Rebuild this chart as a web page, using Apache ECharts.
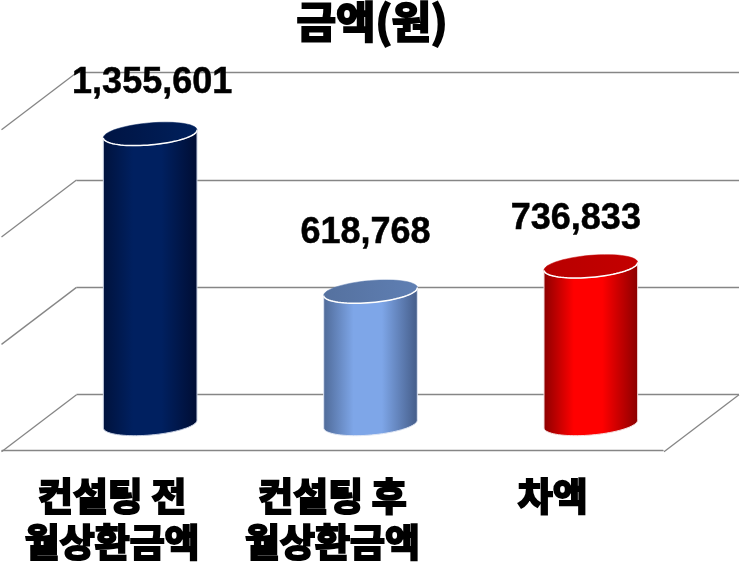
<!DOCTYPE html>
<html><head><meta charset="utf-8">
<style>html,body{margin:0;padding:0;background:#fff}#c{width:740px;height:565px}</style>
<script src="https://cdn.jsdelivr.net/npm/echarts@6/dist/echarts.min.js"></script>
</head><body><div id="c"></div>
<script>
const categories = ['컨설팅 전\n월상환금액', '컨설팅 후\n월상환금액', '차액'];
const values = [1355601, 618768, 736833];
const valueLabels = ['1,355,601', '618,768', '736,833'];
const gridTicks = [0, 500000, 1000000, 1500000];

const KR = '"Noto Sans CJK KR","Noto Sans",sans-serif';
const palettes = [
  {edgeL:'#00123c', mid:'#002060', edgeR:'#000d33', top:['#001443','#00205c'], line:'#c4cde0'},
  {edgeL:'#4f6a98', mid:'#7ea6e8', edgeR:'#445c88', top:['#55719f','#5f7fb3'], line:'#dfe6f4'},
  {edgeL:'#8c0000', mid:'#ff0000', edgeR:'#8a0000', top:['#b80000','#c40000'], line:'#f4dede'}
];
const labelShift = [[2,-51],[-5,-59],[-15,-47]];
const DEPTH = [-75, 57];
const RX = 47, RY = 11, TILT = -5 * Math.PI / 180;

function ell(cx, cy, t){
  const c = Math.cos(t), s = Math.sin(t);
  return [cx + RX*c*Math.cos(TILT) - RY*s*Math.sin(TILT),
          cy + RX*c*Math.sin(TILT) + RY*s*Math.cos(TILT)];
}
function arcPts(cx, cy, a, b, n){
  const out = [];
  for (let i = 0; i <= n; i++) out.push(ell(cx, cy, a + (b-a)*i/n));
  return out;
}
function grad(stops){
  return new echarts.graphic.LinearGradient(0,0,1,0, stops);
}
function renderCylinder(params, api){
  const i = api.value(0), v = api.value(1);
  const base = api.coord([i, 0]), top = api.coord([i, v]);
  const p = palettes[i];
  const cx = base[0];
  const tCy = top[1], bCy = base[1];
  const body = [].concat(arcPts(cx, tCy, Math.PI, 0, 30), arcPts(cx, bCy, 0, Math.PI, 40));
  const fill = grad([{offset:0,color:p.edgeL},{offset:.32,color:p.mid},{offset:.62,color:p.mid},{offset:1,color:p.edgeR}]);
  const topFill = grad([{offset:0,color:p.top[0]},{offset:1,color:p.top[1]}]);
  return {type:'group', children:[
    {type:'polygon', shape:{points:body}, style:{fill:fill, stroke:p.line, lineWidth:1}},
    {type:'polygon', shape:{points:arcPts(cx, tCy, 0, Math.PI*2, 60)}, style:{fill:topFill, stroke:p.top[1], lineWidth:.5}},
    {type:'polyline', shape:{points:arcPts(cx, tCy, 0, Math.PI, 40)}, style:{fill:'none', stroke:'#fff', lineWidth:1.5}},
    {type:'text', x:cx+labelShift[i][0], y:tCy+labelShift[i][1], style:{
      text:valueLabels[i], x:0, y:0, align:'center', verticalAlign:'middle',
      fill:'#000', stroke:'#000', lineWidth:.5, font:'bold 36px "Liberation Sans",Arial,sans-serif'}}
  ]};
}
function renderSlant(params, api){
  const c = params.coordSys;
  const v = api.value(1);
  const p = api.coord([0, v]);
  const lineStyle = {stroke:'#868686', lineWidth:1.3, fill:'none'};
  const kids = [{type:'line', shape:{x1:c.x, y1:p[1], x2:c.x+DEPTH[0], y2:p[1]+DEPTH[1]}, style:lineStyle}];
  if (v === 0) kids.push({type:'line', shape:{x1:c.x+c.width, y1:p[1], x2:c.x+c.width+DEPTH[0], y2:p[1]+DEPTH[1]}, style:lineStyle});
  return {type:'group', children:kids};
}
const hiddenY = {type:'value', min:0, max:1500000, interval:500000, axisLine:{show:false}, axisTick:{show:false}, axisLabel:{show:false}};
const chart = echarts.init(document.getElementById('c'), null, {renderer:'canvas'});
chart.setOption({
  animation:false,
  backgroundColor:'#fff',
  title:{text:'금액(원)', left:367, top:-5, textAlign:'center',
    textStyle:{fontFamily:KR, fontWeight:'bold', fontSize:43, color:'#000', textBorderColor:'#000', textBorderWidth:2.2}},
  grid:[
    {left:76.5, top:72.7, width:662.5, height:322},
    {left:40, top:103, width:661, height:321},
    {left:2, top:129, width:661, height:322}
  ],
  xAxis:[
    {gridIndex:0, type:'category', data:categories, show:false},
    {gridIndex:1, type:'category', data:categories, show:false},
    {gridIndex:2, type:'category', data:categories,
      axisLine:{show:true, lineStyle:{color:'#868686', width:1.3}},
      axisTick:{show:false},
      axisLabel:{show:true, margin:23, fontFamily:KR, fontWeight:'bold', fontSize:38, lineHeight:46, color:'#000',
        textBorderColor:'#000', textBorderWidth:2.2, interval:0}}
  ],
  yAxis:[
    Object.assign({gridIndex:0}, hiddenY, {splitLine:{show:true, lineStyle:{color:'#868686', width:1.3}}}),
    Object.assign({gridIndex:1}, hiddenY, {splitLine:{show:false}}),
    Object.assign({gridIndex:2}, hiddenY, {splitLine:{show:false}})
  ],
  series:[
    {type:'custom', xAxisIndex:0, yAxisIndex:0, clip:false, silent:true, z:1,
      data:gridTicks.map(t=>[0,t]), encode:{x:0,y:1}, renderItem:renderSlant},
    {type:'custom', xAxisIndex:1, yAxisIndex:1, clip:false, z:5,
      data:values.map((v,i)=>[i,v]), encode:{x:0,y:1}, renderItem:renderCylinder}
  ]
});
</script></body></html>
